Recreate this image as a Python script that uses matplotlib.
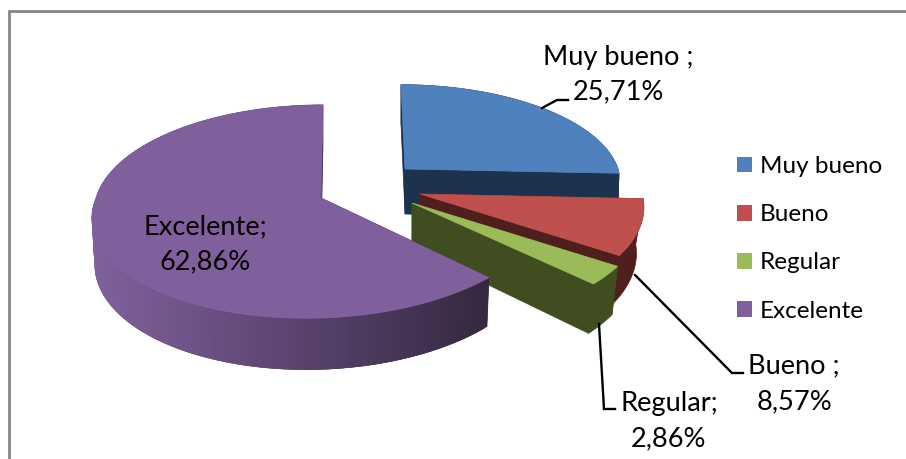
import numpy as np
import matplotlib
matplotlib.use("Agg")
import matplotlib.pyplot as plt
from matplotlib.patches import Patch
from matplotlib.colors import to_rgb

categories = ["Muy bueno", "Bueno", "Regular", "Excelente"]
values = [25.71, 8.57, 2.86, 62.86]
label_names = ["Muy bueno ;", "Bueno ;", "Regular;", "Excelente;"]
top_colors = ["#4f81bd", "#c0504d", "#9bbb59", "#7f5f9c"]
side_colors = ["#1d324e", "#4f1f1d", "#3f4d20", "#35283f"]

# projection of every exploded slice in the pixel-scaled axes
X = [405, 420, 412, 321]
Y = [169, 194, 203, 198]
A = [213, 222, 229, 225]
B = [95, 104, 107, 105]
CONV = [0.993, 0.967, 0.973, 0.988]
SKEW_FRONT = [0, 0, 0, 15]
SKEW_BACK = [-4, 0, 0, 2]
PERSP = 0.127
DEPTH = 45

plt.rcParams["font.family"] = ["Lato", "DejaVu Sans"]
FS = 19.6
LEGEND_FS = 17.5
fig = plt.figure(figsize=(9.06, 4.59), dpi=100)
ax = fig.add_axes([0, 0, 1, 1])
ax.set_xlim(0, 906)
ax.set_ylim(459, 0)
ax.axis("off")

ax.plot([9, 9, 906], [459, 11, 11], color="#868686", lw=2.0,
        solid_joinstyle="miter")


def top_pt(i, theta, r=1.0):
    u, v = r * np.sin(theta), -r * np.cos(theta)
    w = 1 - PERSP * v
    skew = np.where(v > 0, -SKEW_FRONT[i] * v, -SKEW_BACK[i] * v)
    return X[i] + A[i] * u / w + skew, Y[i] + B[i] * v / w


def bottom_pt(i, theta, r=1.0):
    x, y = top_pt(i, theta, r)
    v = -r * np.cos(theta)
    return X[i] + (x - X[i]) * CONV[i], y + DEPTH / (1 - PERSP * v)


edges = np.radians(np.concatenate([[0], np.cumsum(values)]) * 3.6)
purple_stops = np.array([to_rgb("#7f619c"), to_rgb("#5b4470"), to_rgb("#35283f")])

for i in range(len(values)):
    t0, t1 = edges[i], edges[i + 1]
    th = np.linspace(t0, t1, 300)
    tx, ty = top_pt(i, th)
    bx, by = bottom_pt(i, th)
    ax0, ay0 = top_pt(i, t0, 0.0)
    bx0, by0 = bottom_pt(i, t0, 0.0)

    # start and end cut faces
    for t in (t0, t1):
        x1, y1 = top_pt(i, t)
        x2, y2 = bottom_pt(i, t)
        ax.fill([ax0, x1, x2, bx0], [ay0, y1, y2, by0],
                color=side_colors[i], lw=0.5, zorder=2 + i)

    # outer wall
    if categories[i] == "Excelente":
        lo, hi = np.min(tx), 488
        for j in range(len(th) - 1, 2, -1):
            f = np.clip((tx[j] - lo) / (hi - lo), 0, 1) * 2
            c = purple_stops[0] + (purple_stops[1] - purple_stops[0]) * f if f < 1 \
                else purple_stops[1] + (purple_stops[2] - purple_stops[1]) * (f - 1)
            # each quad overlaps the next one, so no seams show
            ax.fill([tx[j], tx[j - 3], bx[j - 3], bx[j]],
                    [ty[j], ty[j - 3], by[j - 3], by[j]],
                    color=c, lw=0, zorder=2 + i)
    else:
        ax.fill(np.r_[tx, bx[::-1]], np.r_[ty, by[::-1]],
                color=side_colors[i], lw=0.5, zorder=2 + i)

    # top face
    ax.fill(np.r_[ax0, tx], np.r_[ay0, ty], color=top_colors[i], lw=0.5,
            zorder=2 + i)

# leader lines
leader_x = [[542, 557, 568], [635, 732, 743], [599, 604, 615]]
leader_y = [[108, 100, 100], [275, 373, 373], [324, 409, 409]]
for lx, ly in zip(leader_x, leader_y):
    ax.plot(lx, ly, color="black", lw=1.7, zorder=10, solid_joinstyle="miter")

# data labels
label_x = [618, 794, 669, 205]
label_y1 = [57, 366, 403, 227]
label_y2 = [92, 402, 439, 262]
for name, val, x, y1, y2 in zip(label_names, values, label_x, label_y1, label_y2):
    pct = f"{val:.2f}%".replace(".", ",")
    ax.text(x, y1, name, ha="center", va="center", fontsize=FS, color="black", zorder=11)
    ax.text(x, y2, pct, ha="center", va="center", fontsize=FS, color="black", zorder=11)

handles = [Patch(facecolor=c, edgecolor="none", label=n)
           for c, n in zip(top_colors, categories)]
px = LEGEND_FS * 100 / 72
ax.legend(handles=handles, loc="upper left", bbox_to_anchor=(737 / 906, 1 - 156 / 459),
          frameon=False, fontsize=LEGEND_FS, handlelength=15 / px, handleheight=15 / px,
          handletextpad=8 / px, labelspacing=1.12, borderpad=0, borderaxespad=0)

fig.savefig("out.png", dpi=100)
